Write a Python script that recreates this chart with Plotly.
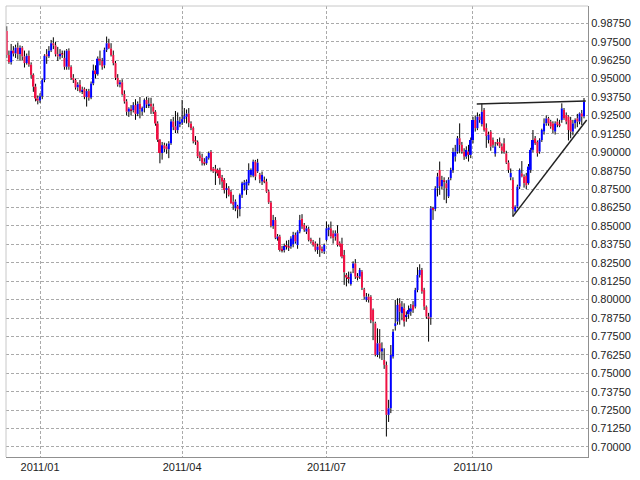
import plotly.graph_objects as go

# daily candles, 2010/12/13 .. 2011/12/09 (one entry per trading day)
opens = [
    .9823, .9660, .9610, .9690, .9670, .9710, .9665, .9710, .9650, .9605,
    .9655, .9595, .9525, .9445, .9365, .9350, .9380, .9490, .9665, .9650,
    .9690, .9740, .9725, .9665, .9650, .9668, .9640, .9580, .9690, .9580,
    .9505, .9490, .9440, .9460, .9415, .9430, .9375, .9415, .9370, .9467,
    .9555, .9530, .9635, .9620, .9590, .9695, .9740, .9705, .9660, .9605,
    .9505, .9460, .9475, .9395, .9345, .9275, .9295, .9285, .9320, .9260,
    .9330, .9275, .9300, .9355, .9320, .9330, .9310, .9275, .9195, .9085,
    .8995, .9048, .9040, .9020, .9060, .9210, .9175, .9150, .9190, .9200,
    .9225, .9240, .9262, .9195, .9165, .9080, .9070, .8980, .8965, .8935,
    .8925, .8962, .9004, .8890, .8888, .8880, .8880, .8830, .8812, .8744,
    .8756, .8733, .8665, .8620, .8635, .8615, .8711, .8778, .8745, .8790,
    .8846, .8840, .8937, .8870, .8850, .8801, .8812, .8801, .8733, .8660,
    .8500, .8540, .8415, .8428, .8345, .8335, .8370, .8360, .8360, .8375,
    .8439, .8370, .8461, .8550, .8507, .8461, .8480, .8410, .8394, .8382,
    .8337, .8371, .8345, .8326, .8405, .8473, .8484, .8450, .8428, .8450,
    .8382, .8380, .8303, .8168, .8150, .8105, .8212, .8246, .8160, .8156,
    .8190, .8070, .7998, .8020, .8020, .7930, .7839, .7625, .7704, .7647,
    .7591, .7557, .7218, .7263, .7613, .7820, .7851, .7975, .7907, .7941,
    .7885, .7900, .7918, .7964, .7952, .8065, .8167, .8201, .8065, .7952,
    .7885, .7879, .8620, .8615, .8756, .8880, .8767, .8812, .8790, .8700,
    .8824, .8880, .8970, .9004, .9095, .9050, .9004, .8970, .9004, .8982,
    .9083, .9219, .9163, .9242, .9190, .9287, .9165, .9083, .9140, .9083,
    .8990, .9070, .9070, .9040, .9061, .8993, .8930, .8830, .8812, .8597,
    .8631, .8767, .8857, .8835, .8840, .8790, .8880, .9016, .9095, .9070,
    .9004, .9083, .9140, .9196, .9230, .9208, .9196, .9140, .9208, .9190,
    .9219, .9287, .9253, .9242, .9219, .9140, .9196, .9230, .9208, .9264,
    .9242,
]
highs = [
    .9855, .9690, .9735, .9720, .9730, .9745, .9725, .9720, .9690, .9670,
    .9690, .9610, .9535, .9465, .9385, .9400, .9500, .9665, .9700, .9720,
    .9762, .9780, .9750, .9715, .9700, .9690, .9690, .9700, .9705, .9590,
    .9530, .9500, .9475, .9490, .9445, .9440, .9430, .9430, .9480, .9595,
    .9590, .9650, .9690, .9640, .9710, .9785, .9770, .9740, .9690, .9620,
    .9530, .9490, .9495, .9420, .9360, .9305, .9320, .9340, .9360, .9345,
    .9375, .9310, .9365, .9375, .9370, .9370, .9330, .9285, .9210, .9090,
    .9070, .9065, .9060, .9075, .9225, .9240, .9280, .9270, .9240, .9355,
    .9300, .9290, .9300, .9210, .9175, .9110, .9080, .9005, .8990, .8960,
    .8975, .9005, .9015, .8900, .8914, .8890, .8895, .8846, .8825, .8790,
    .8770, .8745, .8711, .8680, .8643, .8720, .8800, .8812, .8815, .8925,
    .8890, .8950, .8948, .8955, .8860, .8869, .8835, .8820, .8745, .8670,
    .8575, .8560, .8445, .8440, .8365, .8380, .8400, .8405, .8430, .8460,
    .8455, .8470, .8575, .8580, .8520, .8500, .8495, .8420, .8405, .8395,
    .8380, .8420, .8360, .8380, .8530, .8510, .8530, .8470, .8470, .8505,
    .8395, .8420, .8337, .8180, .8190, .8190, .8260, .8275, .8180, .8215,
    .8200, .8080, .8045, .8040, .8030, .7940, .7850, .7805, .7800, .7710,
    .7670, .7580, .7320, .7692, .7800, .7998, .8009, .8010, .7990, .7975,
    .7920, .7960, .7970, .7990, .8080, .8220, .8240, .8215, .8080, .7960,
    .7910, .8635, .8630, .8770, .8860, .8937, .8840, .8830, .8810, .8830,
    .8895, .9030, .9050, .9110, .9196, .9070, .9027, .9040, .9050, .9100,
    .9240, .9250, .9270, .9260, .9332, .9300, .9196, .9140, .9150, .9100,
    .9070, .9090, .9100, .9060, .9095, .9010, .8945, .8890, .8830, .8640,
    .8780, .8890, .8940, .8850, .8860, .8920, .9030, .9151, .9110, .9080,
    .9095, .9160, .9230, .9250, .9240, .9220, .9210, .9210, .9230, .9220,
    .9332, .9300, .9270, .9250, .9240, .9220, .9230, .9260, .9270, .9287,
    .9368,
]
lows = [
    .9640, .9600, .9595, .9650, .9640, .9630, .9620, .9625, .9575, .9595,
    .9580, .9500, .9410, .9345, .9325, .9335, .9360, .9475, .9600, .9640,
    .9680, .9700, .9650, .9620, .9630, .9640, .9560, .9560, .9560, .9490,
    .9470, .9425, .9415, .9405, .9395, .9360, .9310, .9350, .9360, .9455,
    .9500, .9520, .9590, .9560, .9570, .9680, .9700, .9650, .9590, .9490,
    .9445, .9440, .9385, .9330, .9250, .9240, .9250, .9270, .9220, .9245,
    .9230, .9250, .9270, .9300, .9300, .9260, .9260, .9180, .9070, .8925,
    .8950, .9000, .8990, .8960, .9050, .9150, .9130, .9130, .9170, .9185,
    .9200, .9195, .9170, .9150, .9060, .9050, .8960, .8940, .8910, .8910,
    .8915, .8950, .8870, .8860, .8778, .8840, .8780, .8756, .8720, .8688,
    .8700, .8650, .8609, .8600, .8552, .8565, .8690, .8740, .8711, .8775,
    .8830, .8830, .8810, .8860, .8790, .8778, .8790, .8725, .8650, .8490,
    .8480, .8410, .8400, .8326, .8320, .8320, .8340, .8330, .8345, .8355,
    .8380, .8345, .8450, .8480, .8460, .8445, .8395, .8380, .8360, .8326,
    .8310, .8290, .8315, .8310, .8395, .8430, .8415, .8380, .8400, .8360,
    .8360, .8280, .8100, .8090, .8110, .8095, .8180, .8140, .8130, .8140,
    .8065, .8000, .7985, .7980, .7840, .7725, .7615, .7610, .7600, .7590,
    .7530, .7071, .7170, .7230, .7600, .7790, .7830, .7830, .7860, .7817,
    .7850, .7870, .7890, .7910, .7940, .8050, .8150, .8040, .7930, .7870,
    .7715, .7829, .8541, .8600, .8700, .8711, .8750, .8677, .8654, .8690,
    .8810, .8860, .8937, .8990, .8993, .8990, .8948, .8955, .8937, .8960,
    .9060, .9140, .9150, .9200, .9175, .9140, .9030, .9060, .9010, .9030,
    .8970, .9045, .9030, .8990, .8990, .8920, .8860, .8810, .8565, .8590,
    .8620, .8750, .8830, .8760, .8750, .8780, .8860, .9000, .9050, .8970,
    .8990, .9070, .9120, .9180, .9180, .9160, .9130, .9120, .9170, .9170,
    .9200, .9220, .9190, .9080, .9095, .9115, .9160, .9170, .9190, .9185,
    .9230,
]
closes = [
    .9660, .9610, .9690, .9670, .9710, .9665, .9710, .9650, .9605, .9655,
    .9595, .9525, .9445, .9365, .9350, .9380, .9490, .9655, .9650, .9690,
    .9740, .9725, .9665, .9650, .9668, .9660, .9580, .9690, .9580, .9505,
    .9490, .9440, .9460, .9415, .9425, .9375, .9415, .9370, .9467, .9555,
    .9530, .9635, .9620, .9580, .9695, .9740, .9705, .9660, .9605, .9505,
    .9460, .9475, .9395, .9345, .9275, .9297, .9285, .9320, .9260, .9330,
    .9290, .9300, .9355, .9325, .9330, .9310, .9275, .9195, .9085, .8995,
    .9048, .9025, .9020, .9060, .9210, .9170, .9150, .9215, .9205, .9225,
    .9245, .9262, .9200, .9165, .9075, .9070, .8972, .8960, .8928, .8925,
    .8970, .8995, .8880, .8870, .8869, .8857, .8824, .8800, .8744, .8756,
    .8711, .8654, .8643, .8665, .8612, .8711, .8790, .8795, .8801, .8880,
    .8880, .8937, .8835, .8930, .8815, .8846, .8801, .8733, .8660, .8500,
    .8540, .8420, .8428, .8337, .8335, .8364, .8360, .8352, .8416, .8439,
    .8395, .8461, .8540, .8495, .8473, .8484, .8405, .8394, .8371, .8337,
    .8360, .8337, .8326, .8371, .8484, .8490, .8428, .8416, .8450, .8371,
    .8365, .8292, .8185, .8150, .8140, .8178, .8246, .8156, .8150, .8201,
    .8080, .8020, .8020, .7998, .7862, .7851, .7625, .7704, .7647, .7670,
    .7557, .7218, .7263, .7625, .7783, .7840, .7964, .7918, .7952, .7851,
    .7896, .7930, .7941, .7930, .8065, .8167, .8201, .8054, .7952, .7885,
    .7873, .8620, .8609, .8756, .8835, .8770, .8812, .8801, .8756, .8815,
    .8880, .9004, .9004, .9095, .9050, .9004, .8970, .9016, .8982, .9083,
    .9219, .9163, .9242, .9219, .9275, .9151, .9110, .9120, .9038, .9050,
    .9040, .9060, .9040, .9010, .9000, .8930, .8880, .8860, .8612, .8631,
    .8767, .8880, .8835, .8790, .8775, .8903, .9016, .9083, .9061, .8993,
    .9083, .9151, .9196, .9230, .9196, .9174, .9151, .9196, .9185, .9180,
    .9298, .9230, .9208, .9151, .9140, .9196, .9219, .9208, .9264, .9242,
    .9345,
]

month_ticks = [15, 79, 144, 210]
month_labels = ['2011/01', '2011/04', '2011/07', '2011/10']
price_ticks = [0.70000, 0.71250, 0.72500, 0.73750, 0.75000, 0.76250, 0.77500, 0.78750,
               0.80000, 0.81250, 0.82500, 0.83750, 0.85000, 0.86250, 0.87500, 0.88750,
               0.90000, 0.91250, 0.92500, 0.93750, 0.95000, 0.96250, 0.97500, 0.98750]

# hand drawn trend lines (bar index, price)
resist_x = [211.7, 260.8]
resist_y = [0.9327, 0.9348]
support_x = [227.9, 261.2]
support_y = [0.8563, 0.9219]

UP = '#0000ff'
DOWN = '#ee1144'

idx = list(range(len(closes)))

# wicks split above / below body so the body stays clean
wx, wy = [], []
for i, o, h, l, c in zip(idx, opens, highs, lows, closes):
    top, bot = max(o, c), min(o, c)
    wx += [i, i, None, i, i, None]
    wy += [top, h, None, l, bot, None]

fig = go.Figure()
fig.add_trace(go.Scatter(x=wx, y=wy, mode='lines',
                         line=dict(color='black', width=1), hoverinfo='skip'))
fig.add_trace(go.Bar(x=idx,
                     y=[abs(c - o) for o, c in zip(opens, closes)],
                     base=[min(o, c) for o, c in zip(opens, closes)],
                     width=0.9,
                     marker=dict(color=[UP if c > o else DOWN for o, c in zip(opens, closes)],
                                 line=dict(width=0))))
fig.add_trace(go.Scatter(x=resist_x, y=resist_y, mode='lines',
                         line=dict(color='#222222', width=1.5)))
fig.add_trace(go.Scatter(x=support_x, y=support_y, mode='lines',
                         line=dict(color='#222222', width=1.5)))

grid = dict(showgrid=True, gridcolor='#aaaaaa', gridwidth=1, griddash='3px,2px',
            zeroline=False, ticks='', showline=True, linecolor='#909090', linewidth=1)

fig.update_layout(
    width=640, height=480,
    margin=dict(l=6, r=52, t=6, b=23),
    paper_bgcolor='white', plot_bgcolor='white',
    showlegend=False, hovermode=False,
    font=dict(family='Liberation Sans, Arial, sans-serif', size=11, color='#222222'),
    xaxis=dict(range=[-0.32, 261.8], tickvals=month_ticks, ticktext=month_labels, **grid),
    yaxis=dict(range=[0.69321, 0.99924], side='right', tickvals=price_ticks,
               tickformat='.5f', **grid),
    shapes=[
        dict(type='line', xref='paper', yref='paper', x0=0, x1=1, y0=1, y1=1,
             line=dict(color='#c8c8c8', width=1)),
        dict(type='line', xref='paper', yref='paper', x0=0, x1=0, y0=0, y1=1,
             line=dict(color='#c8c8c8', width=1)),
    ],
)

# page body has an 8px default margin; drop it so the chart sits at the window corner
fig.write_html('out.html', config={'displayModeBar': False},
               post_script="document.body.style.margin='0px';")
